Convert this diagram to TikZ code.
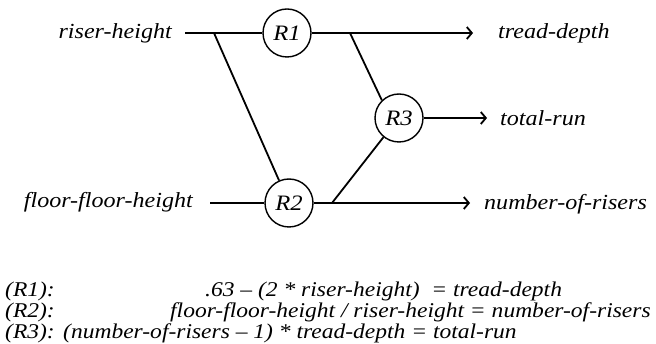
\documentclass[tikz,border=0pt]{standalone}
\usepackage{fontspec}
\setmainfont{Liberation Serif}[FakeStretch=1.12]
\usetikzlibrary{arrows.meta}
\begin{document}
\begin{tikzpicture}[x=1pt,y=-1pt,
  lbl/.style={font=\fontsize{21.5}{24}\selectfont\itshape, inner sep=0pt},
  eq/.style={font=\fontsize{21}{24}\selectfont\itshape, inner sep=0pt},
  rel/.style={draw, circle, line width=1.4pt, minimum size=48pt, inner sep=0pt, font=\fontsize{22}{24}\selectfont\itshape},
  wire/.style={line width=1.8pt},
  arr/.style={wire, -{Straight Barb[length=5pt,width=12pt]}}]
\useasboundingbox (0,0) rectangle (656,344);
\node[lbl, anchor=east] (rh) at (172,33) {riser-height};
\node[lbl, anchor=east] (ffh) at (193,202) {floor-floor-height};
\node[rel] (R1) at (287,33) {R1};
\node[rel] (R2) at (289,203) {R2};
\node[rel] (R3) at (399,118) {R3};
\node[lbl, anchor=west] (td) at (498,33) {tread-depth};
\node[lbl, anchor=west] (tr) at (500,118) {total-run};
\node[lbl, anchor=west] (nr) at (484,204) {number-of-risers};
\coordinate (s1) at (185,33);
\coordinate (b1) at (214,33);
\coordinate (s2) at (210,203);
\coordinate (e1) at (473,33);
\coordinate (b2) at (350,33);
\coordinate (e3) at (487,118);
\coordinate (b3) at (332,203);
\coordinate (e2) at (470,203);
\draw[wire] (s1) -- (R1);
\draw[wire] (b1) -- (R2);
\draw[wire] (s2) -- (R2);
\draw[arr] (R1) -- (e1);
\draw[wire] (b2) -- (R3.134);
\draw[arr] (R3) -- (e3);
\draw[arr] (R2) -- (e2);
\draw[wire] (b3) -- (R3.231);
\node[eq, anchor=west] (l1) at (5,291) {(R1):};
\node[eq, anchor=west] (q1) at (205,291) {.63 – (2 * riser-height)\ \ = tread-depth};
\node[eq, anchor=west] (l2) at (5,312) {(R2):};
\node[eq, anchor=west] (q2) at (170,312) {floor-floor-height / riser-height = number-of-risers};
\node[eq, anchor=west] (l3) at (5,333) {(R3):};
\node[eq, anchor=west] (q3) at (63,333) {(number-of-risers – 1) * tread-depth = total-run};
\end{tikzpicture}
\end{document}
